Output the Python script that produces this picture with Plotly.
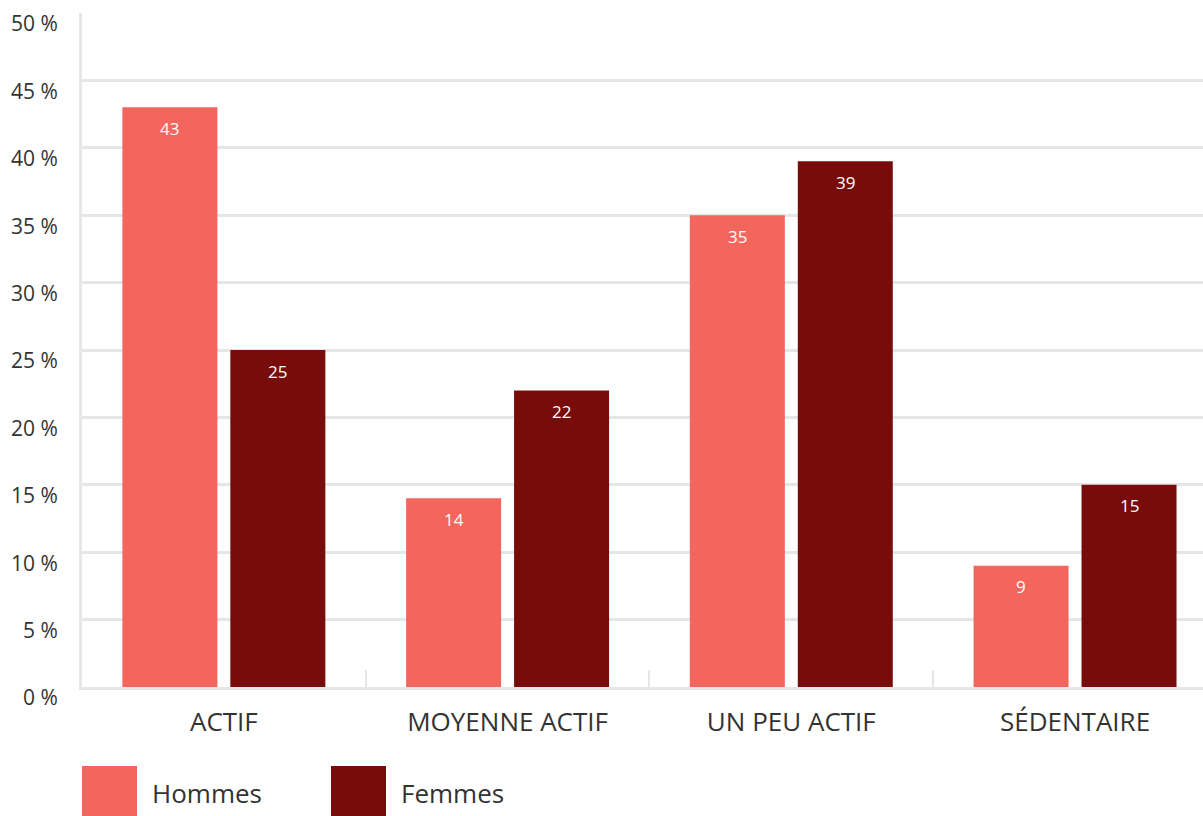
import plotly.graph_objects as go

categories = ["ACTIF", "MOYENNE ACTIF", "UN PEU ACTIF", "SÉDENTAIRE"]
series_names = ["Hommes", "Femmes"]
hommes = [43, 14, 35, 9]
femmes = [25, 22, 39, 15]
y_ticks = [0, 5, 10, 15, 20, 25, 30, 35, 40, 45, 50]
y_tick_labels = [f"{v} %" for v in y_ticks]

colors = ["#f2665e", "#770c0a"]
grid = "#e6e6e6"
txt = "#333333"
FONT = "Open Sans"

fig = go.Figure()
for name, vals, col in zip(series_names, [hommes, femmes], colors):
    fig.add_trace(go.Bar(x=categories, y=vals, name=name, marker_color=col,
                         marker_line_width=0, showlegend=False, hoverinfo="skip"))

annotations = []
for i, (name, vals) in enumerate(zip(series_names, [hommes, femmes])):
    shift = -54 if i == 0 else 54
    for c, v in zip(categories, vals):
        annotations.append(dict(x=c, y=v, xref="x", yref="y", text=str(v), showarrow=False,
                                xshift=shift, yshift=-21, yanchor="middle",
                                font=dict(family=FONT, size=17, color="white")))

# custom legend
W, L = 1121, 82
H, B = 674, 687
def px_x(p):
    return (p - L) / W
def px_y(p):
    return (B - p) / H

legend_x = [82, 331]
shapes = []
for name, col, lx in zip(series_names, colors, legend_x):
    shapes.append(dict(type="rect", xref="paper", yref="paper",
                       x0=px_x(lx), x1=px_x(lx + 55), y0=px_y(766), y1=px_y(822),
                       fillcolor=col, line_width=0))
    annotations.append(dict(xref="paper", yref="paper", x=px_x(lx + 68), y=px_y(793),
                            xanchor="left", yanchor="middle", text=name, showarrow=False,
                            font=dict(family=FONT, size=26, color=txt)))

fig.update_layout(
    width=1203, height=816,
    margin=dict(l=82, r=0, t=13, b=129),
    paper_bgcolor="white", plot_bgcolor="white",
    barmode="group", bargap=0.239, bargroupgap=0.12,
    font=dict(family=FONT, color=txt),
    annotations=annotations, shapes=shapes,
    showlegend=False,
)
fig.update_xaxes(
    range=[-0.5, 3.451], showgrid=False,
    showline=True, linecolor=grid, linewidth=3,
    ticks="inside", tickson="boundaries", ticklen=17, tickwidth=2, tickcolor=grid,
    tickfont=dict(family=FONT, size=26, color=txt),
    ticklabelstandoff=10,
)
fig.update_yaxes(
    range=[0, 50], tickvals=y_ticks, ticktext=y_tick_labels,
    showgrid=True, gridcolor=grid, gridwidth=3,
    showline=True, linecolor=grid, linewidth=3,
    zeroline=False, ticks="",
    tickfont=dict(family=FONT, size=21, color=txt),
    ticklabelstandoff=17, ticklabelshift=11,
)

fig.write_html("out.html", config={"displayModeBar": False},
               post_script="document.body.style.margin='0';document.body.style.overflow='hidden';")
